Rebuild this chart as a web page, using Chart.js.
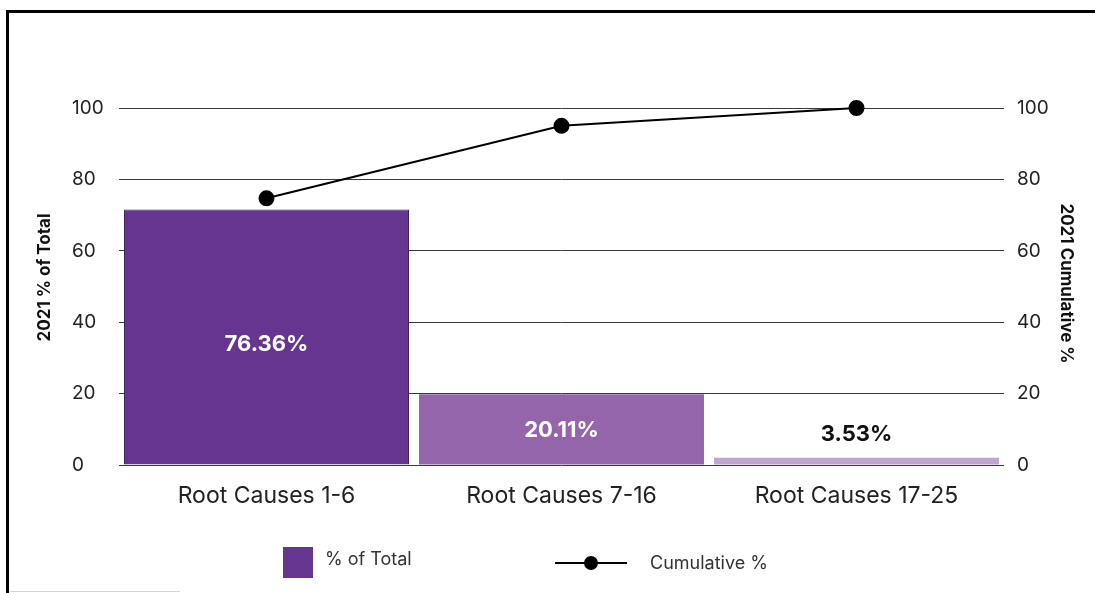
<!DOCTYPE html>
<html>
<head>
<meta charset="utf-8">
<script src="https://cdn.jsdelivr.net/npm/chart.js@4.4.0/dist/chart.umd.min.js"></script>
<style>
  html, body { margin: 0; padding: 0; background: #fff; }
  #wrap { position: relative; width: 1095px; height: 593px; overflow: hidden; font-family: Inter, "Noto Sans", sans-serif; }
  #frame { position: absolute; left: 6px; top: 10px; width: 1200px; height: 700px;
           border-top: 3px solid #000; border-left: 3px solid #000; box-sizing: border-box; }
  #foot { position: absolute; left: 10px; top: 591px; width: 170px; height: 1px; background: #d6d6d6; }
  canvas { position: absolute; left: 0; top: 0; }
  .lg { position: absolute; color: #333; font-size: 18px; }
</style>
</head>
<body>
<div id="wrap">
  <canvas id="paretoChart" width="1095" height="593"></canvas>
  <div id="frame"></div>
  <div id="foot"></div>
  <!-- legend -->
  <div style="position:absolute;left:283px;top:547px;width:30px;height:31px;background:#65358f;"></div>
  <div class="lg" style="left:325px;top:548px;">% of Total</div>
  <div style="position:absolute;left:555px;top:562px;width:72px;height:2px;background:#000;"></div>
  <div style="position:absolute;left:584px;top:556px;width:14px;height:14px;border-radius:50%;background:#000;"></div>
  <div class="lg" style="left:650px;top:552px;">Cumulative %</div>
</div>

<script>
// ===== data =====
const categories   = ["Root Causes 1-6", "Root Causes 7-16", "Root Causes 17-25"];
const pctOfTotal   = [71.6, 19.8, 2.0];
const pctLabels    = ["76.36%", "20.11%", "3.53%"];
const cumulative   = [74.7, 95.0, 100];
const yTicks       = [0, 20, 40, 60, 80, 100];

const barColors    = ["#65358f", "#9565ac", "#c1a5d1"];
const leftTitle    = "2021 % of Total";
const rightTitle   = "2021 Cumulative %";

const FONT = "Inter, 'Noto Sans', sans-serif";

// bar value labels (white inside, black above when the bar is short)
const barLabels = {
  id: "barLabels",
  afterDatasetsDraw(chart) {
    const ctx = chart.ctx;
    const meta = chart.getDatasetMeta(1);
    ctx.save();
    ctx.font = "bold 22px " + FONT;
    ctx.textAlign = "center";
    ctx.textBaseline = "middle";
    meta.data.forEach((bar, i) => {
      const h = bar.base - bar.y;
      if (h > 100) {
        ctx.fillStyle = "#fff";
        ctx.fillText(pctLabels[i], bar.x, (bar.y + bar.base) / 2 + 7);
      } else if (h > 40) {
        ctx.fillStyle = "#fff";
        ctx.fillText(pctLabels[i], bar.x, (bar.y + bar.base) / 2 + 1);
      } else {
        ctx.fillStyle = "#111";
        ctx.fillText(pctLabels[i], bar.x, bar.y - 23);
      }
    });
    ctx.restore();
  }
};

// rotated axis titles
const axisTitles = {
  id: "axisTitles",
  afterDraw(chart) {
    const ctx = chart.ctx;
    const mid = (chart.chartArea.top + chart.chartArea.bottom) / 2;
    ctx.save();
    ctx.font = "bold 17px " + FONT;
    ctx.fillStyle = "#111";
    ctx.textAlign = "center";
    ctx.textBaseline = "middle";
    ctx.translate(45, mid - 9);
    ctx.rotate(-Math.PI / 2);
    ctx.fillText(leftTitle, 0, 0);
    ctx.restore();

    ctx.save();
    ctx.font = "bold 17px " + FONT;
    ctx.fillStyle = "#111";
    ctx.textAlign = "center";
    ctx.textBaseline = "middle";
    ctx.translate(1066, mid - 3);
    ctx.rotate(Math.PI / 2);
    ctx.fillText(rightTitle, 0, 0);
    ctx.restore();
  }
};

new Chart(document.getElementById("paretoChart"), {
  data: {
    labels: categories,
    datasets: [
      {
        type: "line",
        label: "Cumulative %",
        data: cumulative,
        yAxisID: "y2",
        borderColor: "#000",
        backgroundColor: "#000",
        borderWidth: 2,
        pointRadius: 7,
        pointBackgroundColor: "#000",
        tension: 0,
        clip: false,
        order: 0
      },
      {
        type: "bar",
        label: "% of Total",
        data: pctOfTotal,
        yAxisID: "y",
        backgroundColor: barColors,
        borderColor: ["#3f1f5c", "rgba(0,0,0,0)", "rgba(0,0,0,0)"],
        borderWidth: [1, 0, 0],
        categoryPercentage: 1,
        barPercentage: 0.966,
        order: 1
      }
    ]
  },
  options: {
    responsive: false,
    animation: false,
    layout: { padding: { left: 72, right: 19, top: 108, bottom: 78 } },
    plugins: {
      legend: { display: false },
      tooltip: { enabled: false }
    },
    scales: {
      x: {
        grid: { display: false },
        border: { display: false },
        ticks: { color: "#222", font: { family: FONT, size: 23 }, padding: 9 },
        afterFit(s) { s.height = 50; }
      },
      y: {
        position: "left",
        min: 0, max: 100,
        afterBuildTicks(s) { s.ticks = yTicks.map(v => ({ value: v })); },
        grid: { color: "#3a3a3a", lineWidth: 1, drawTicks: false },
        border: { display: false },
        ticks: { color: "#222", font: { family: FONT, size: 19 }, crossAlign: "far", padding: 0 },
        afterFit(s) { s.width = 47; }
      },
      y2: {
        position: "right",
        min: 0, max: 100,
        afterBuildTicks(s) { s.ticks = yTicks.map(v => ({ value: v })); },
        grid: { display: false, drawTicks: false },
        border: { display: false },
        ticks: { color: "#222", font: { family: FONT, size: 19 }, padding: 13 },
        afterFit(s) { s.width = 72; }
      }
    }
  },
  plugins: [barLabels, axisTitles]
});
</script>
</body>
</html>
